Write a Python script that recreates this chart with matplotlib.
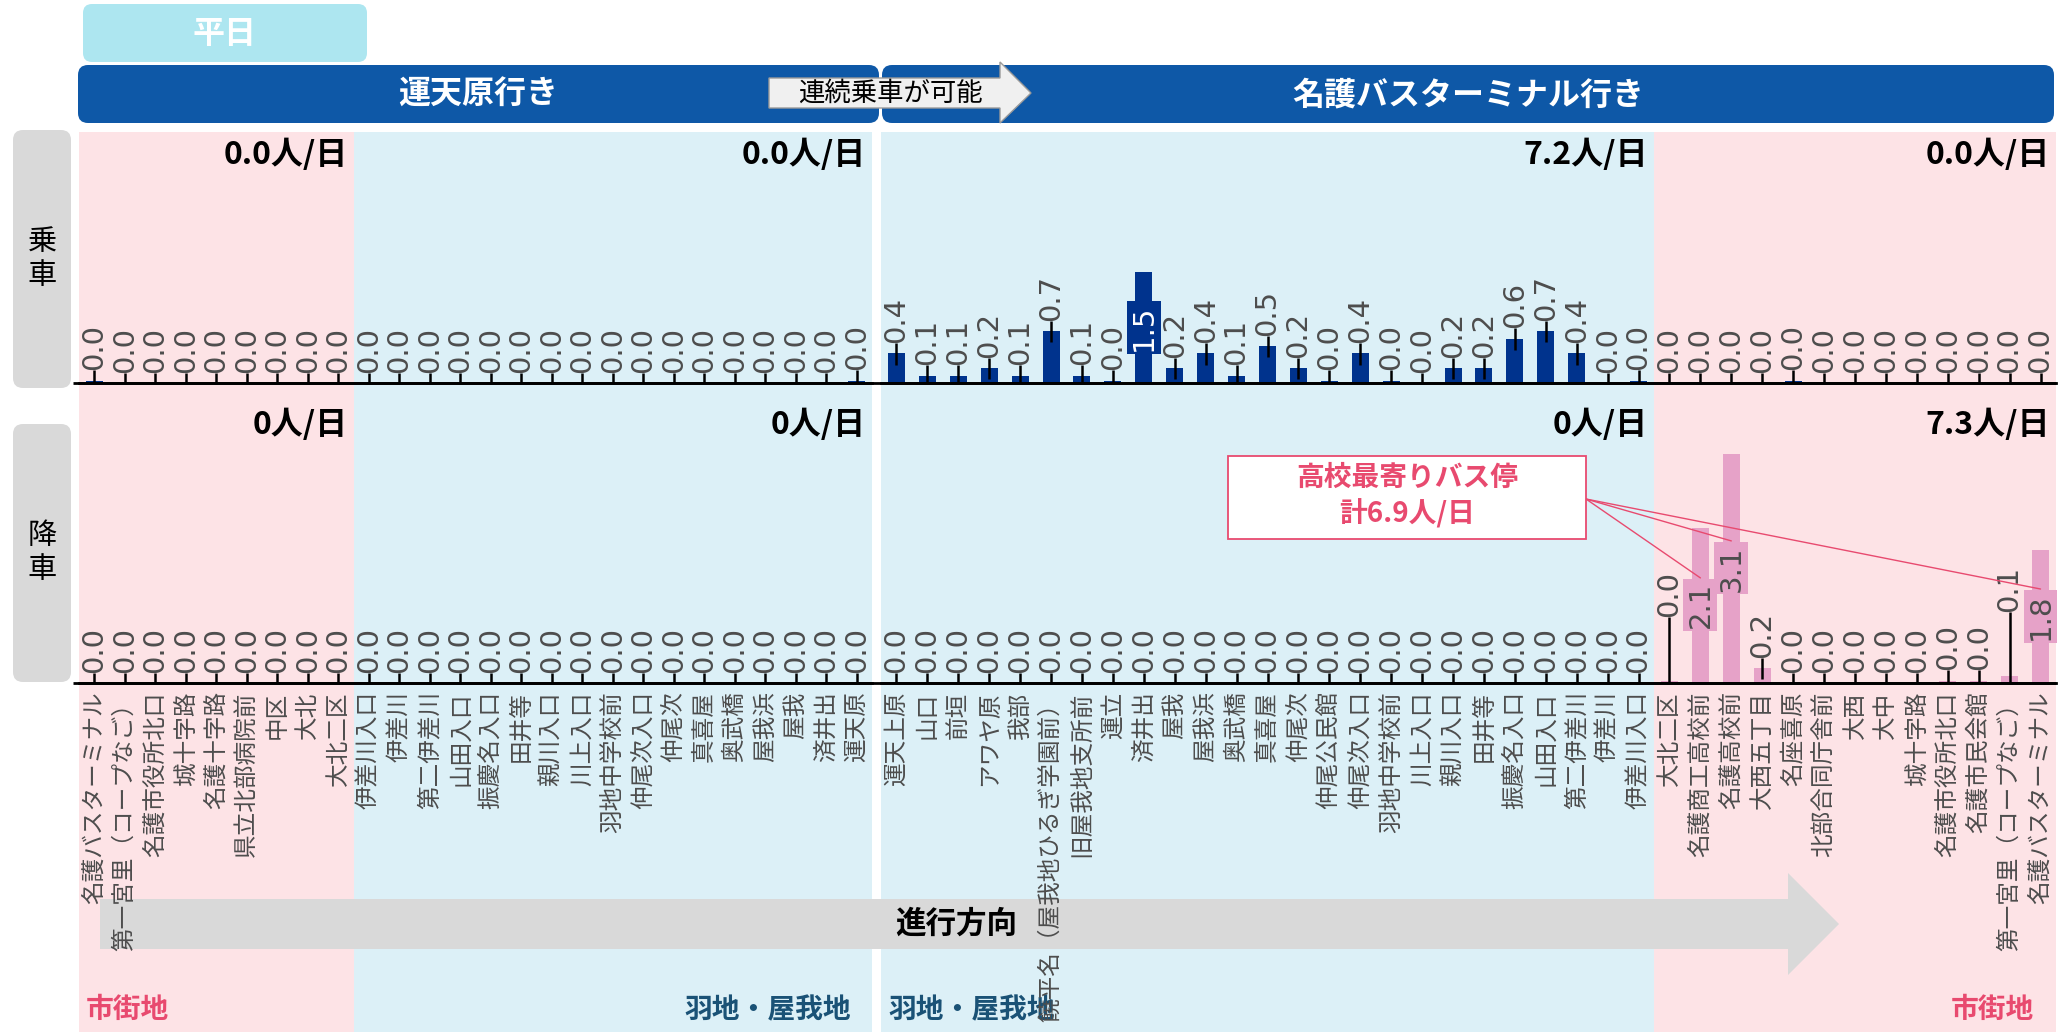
import matplotlib.pyplot as plt
import numpy as np
from matplotlib.patches import Rectangle, FancyBboxPatch, Polygon
from matplotlib.transforms import blended_transform_factory

plt.rcParams['font.family'] = ['Noto Sans CJK JP', 'DejaVu Sans']

# ---- data ----
stops_out = ["名護バスターミナル", "第一宮里（コープなご）", "名護市役所北口", "城十字路", "名護十字路",
             "県立北部病院前", "中区", "大北", "大北二区", "伊差川入口", "伊差川", "第二伊差川",
             "山田入口", "振慶名入口", "田井等", "親川入口", "川上入口", "羽地中学校前", "仲尾次入口",
             "仲尾次", "真喜屋", "奥武橋", "屋我浜", "屋我", "済井出", "運天原"]
stops_back = ["運天上原", "山口", "前垣", "アワヤ原", "我部", "饒平名（屋我地ひるぎ学園前）",
              "旧屋我地支所前", "運立", "済井出", "屋我", "屋我浜", "奥武橋", "真喜屋", "仲尾次",
              "仲尾公民館", "仲尾次入口", "羽地中学校前", "川上入口", "親川入口", "田井等",
              "振慶名入口", "山田入口", "第二伊差川", "伊差川", "伊差川入口", "大北二区",
              "名護商工高校前", "名護高校前", "大西五丁目", "名座喜原", "北部合同庁舎前", "大西",
              "大中", "城十字路", "名護市役所北口", "名護市民会館", "第一宮里（コープなご）",
              "名護バスターミナル"]

board_out = [0.03, 0, 0, 0, 0, 0, 0, 0, 0, 0, 0, 0, 0, 0, 0, 0, 0, 0, 0, 0, 0, 0, 0, 0, 0, 0.03]
alight_out = [0, 0, 0, 0, 0, 0, 0, 0, 0, 0, 0, 0, 0, 0, 0, 0, 0, 0, 0, 0, 0, 0, 0, 0, 0, 0]
board_back = [0.4, 0.1, 0.1, 0.2, 0.1, 0.7, 0.1, 0.03, 1.5, 0.2, 0.4, 0.1, 0.5, 0.2, 0.03, 0.4,
              0.03, 0.0, 0.2, 0.2, 0.6, 0.7, 0.4, 0.0, 0.03,
              0, 0, 0, 0, 0.03, 0, 0, 0, 0, 0, 0, 0, 0]
alight_back = [0, 0, 0, 0, 0, 0, 0, 0, 0, 0, 0, 0, 0, 0, 0, 0, 0, 0, 0, 0, 0, 0, 0, 0, 0,
               0.03, 2.1, 3.1, 0.2, 0, 0, 0, 0, 0, 0.03, 0.03, 0.1, 1.8]

zones_out = [("市街地", 9), ("羽地・屋我地", 17)]
zones_back = [("羽地・屋我地", 25), ("市街地", 13)]
board_totals_out = ["0.0", "0.0"]
board_totals_back = ["7.2", "0.0"]
alight_totals_out = ["0", "0"]
alight_totals_back = ["0", "7.3"]
school_stops = ["名護商工高校前", "名護高校前", "名護バスターミナル"]

# ---- style ----
W, H = 2072, 1032
NAVY = '#00338d'
PINK = '#e6a2c8'
ZONE_BG = {"市街地": '#fde3e6', "羽地・屋我地": '#dcf0f7'}
ZONE_TXT = {"市街地": '#e84a6f', "羽地・屋我地": '#1a5276'}
HEAD = '#0e58a7'
LBL = '#4d4d4d'
PX_PER_UNIT = 74

fig = plt.figure(figsize=(W / 100, H / 100), dpi=100)
bg = fig.add_axes([0, 0, 1, 1], zorder=0)
bg.set_xlim(0, W)
bg.set_ylim(H, 0)
bg.axis('off')
top = fig.add_axes([0, 0, 1, 1], zorder=5)
top.set_xlim(0, W)
top.set_ylim(H, 0)
top.axis('off')
top.patch.set_alpha(0)


def px_axes(x0, y0, x1, y1):
    ax = fig.add_axes([x0 / W, 1 - y1 / H, (x1 - x0) / W, (y1 - y0) / H], zorder=1)
    ax.set_facecolor('none')
    ax.set_ylim(0, (y1 - y0) / PX_PER_UNIT)
    for s in ['top', 'left', 'right']:
        ax.spines[s].set_visible(False)
    ax.spines['bottom'].set_linewidth(2)
    ax.set_yticks([])
    return ax


ax_bo = px_axes(79, 132, 872, 383)
ax_ao = px_axes(79, 400, 872, 683)
ax_bb = px_axes(881, 132, 2056, 383)
ax_ab = px_axes(881, 400, 2056, 683)

# baseline continues across the gap between the two routes
for y in (383, 683):
    top.plot([73, 2056], [y, y], color='black', lw=2, solid_capstyle='butt')


def draw_panel(ax, vals, color, inside_tc, lifts=None):
    lifts = lifts or {}
    x = np.arange(len(vals))
    ax.set_xlim(-0.5, len(vals) - 0.5)
    ax.bar(x, vals, width=0.55, color=color, zorder=2)
    for i, v in enumerate(vals):
        t = f"{v:.1f}"
        if v >= 1.0:
            ax.text(i, v / 2, t, rotation=90, ha='center', va='center', fontsize=21,
                    family='DejaVu Sans', color=inside_tc, zorder=4,
                    bbox=dict(boxstyle='square,pad=0.1', fc=color, ec='none'))
        else:
            y0 = lifts.get(i, v + 0.14)
            ax.plot([i, i], [max(v - 0.15, 0), y0], color='black', lw=1.8, zorder=3,
                    solid_capstyle='butt')
            ax.text(i, y0, t, rotation=90, ha='center', va='bottom', fontsize=21,
                    family='DejaVu Sans', color=LBL, zorder=4)


draw_panel(ax_bo, board_out, NAVY, 'white')
draw_panel(ax_bb, board_back, NAVY, 'white')
draw_panel(ax_ao, alight_out, PINK, LBL)
draw_panel(ax_ab, alight_back, PINK, LBL, lifts={25: 0.89, 36: 0.96})

for ax in (ax_bo, ax_bb):
    ax.set_xticks([])
for ax, stops in ((ax_ao, stops_out), (ax_ab, stops_back)):
    ax.set_xticks(range(len(stops)))
    ax.set_xticklabels(stops, rotation=90, fontsize=17, color=LBL)
    ax.tick_params(axis='x', length=0, pad=6)

# zone backgrounds, zone names and totals
for ax_b, zones, bt, at in ((ax_bo, zones_out, board_totals_out, alight_totals_out),
                            (ax_bb, zones_back, board_totals_back, alight_totals_back)):
    tr = blended_transform_factory(ax_b.transData, bg.transData)
    start = 0
    for k, (name, n) in enumerate(zones):
        bg.add_patch(Rectangle((start - 0.5, 132), n, H - 132, transform=tr,
                               fc=ZONE_BG[name], ec='none', zorder=0))
        if k == 0:
            bg.text(start - 0.27, 1010, name, transform=tr, ha='left', va='center',
                    fontsize=20, fontweight='bold', color=ZONE_TXT[name], zorder=3)
        else:
            bg.text(start + n - 1.2, 1010, name, transform=tr, ha='right', va='center',
                    fontsize=20, fontweight='bold', color=ZONE_TXT[name], zorder=3)
        last = start + n - 1 + 0.3
        top.text(last, 155, f"{bt[k]}人/日", transform=tr, ha='right', va='center',
                 fontsize=23, fontweight='bold', color='black')
        top.text(last, 425, f"{at[k]}人/日", transform=tr, ha='right', va='center',
                 fontsize=23, fontweight='bold', color='black')
        start += n

# header
bg.add_patch(FancyBboxPatch((83, 4), 284, 58, boxstyle='round,pad=0,rounding_size=9',
                            fc='#ade6f0', ec='none', zorder=2))
bg.text(225, 34, "平日", ha='center', va='center', fontsize=23, fontweight='bold', color='white', zorder=3)
bg.add_patch(FancyBboxPatch((78, 65), 801, 58, boxstyle='round,pad=0,rounding_size=10',
                            fc=HEAD, ec='none', zorder=2))
bg.add_patch(FancyBboxPatch((882, 65), 1172, 58, boxstyle='round,pad=0,rounding_size=10',
                            fc=HEAD, ec='none', zorder=2))
bg.text(478, 95, "運天原行き", ha='center', va='center', fontsize=23, fontweight='bold',
        color='white', zorder=3)
bg.text(1468, 95, "名護バスターミナル行き", ha='center', va='center', fontsize=23,
        fontweight='bold', color='white', zorder=3)
bg.add_patch(Polygon([(769, 78), (1000, 78), (1000, 62), (1031, 93), (1000, 123), (1000, 108),
                      (769, 108)], closed=True, fc='#f0f0f0', ec='#9a9a9a', lw=1, zorder=3))
bg.text(890, 93, "連続乗車が可能", ha='center', va='center', fontsize=19, color='black', zorder=4)

# side labels
for y0, txt in ((130, "乗\n車"), (424, "降\n車")):
    bg.add_patch(FancyBboxPatch((13, y0), 58, 258, boxstyle='round,pad=0,rounding_size=10',
                                fc='#d9d9d9', ec='none', zorder=2))
    bg.text(42, y0 + 129, txt, ha='center', va='center', fontsize=21, linespacing=1.15,
            color='black', zorder=3)

# direction arrow
bg.add_patch(Polygon([(100, 899), (1788, 899), (1788, 873), (1839, 924), (1788, 975),
                      (1788, 949), (100, 949)], closed=True, fc='#d9d9d9', ec='none', zorder=1))
bg.text(956, 924, "進行方向", ha='center', va='center', fontsize=22, fontweight='bold',
        color='black', zorder=2)

# school annotation
top.add_patch(Rectangle((1228, 456), 358, 83, fc='white', ec='#e84a6f', lw=1.3))
top.text(1407, 478, "高校最寄りバス停", ha='center', va='center', fontsize=20,
         fontweight='bold', color='#e84a6f')
top.text(1407, 514, "計6.9人/日", ha='center', va='center', fontsize=20,
         fontweight='bold', color='#e84a6f')
for name in school_stops:
    i = stops_back.index(name)
    v = alight_back[i]
    ax_ab.annotate('', xy=(i, v / 2 + 0.37), xycoords='data', xytext=(1586, 499),
                   textcoords=top.transData, annotation_clip=False, zorder=6,
                   arrowprops=dict(arrowstyle='-', color='#e84a6f', lw=1, shrinkA=0, shrinkB=0))

fig.savefig('out.png', dpi=100)
